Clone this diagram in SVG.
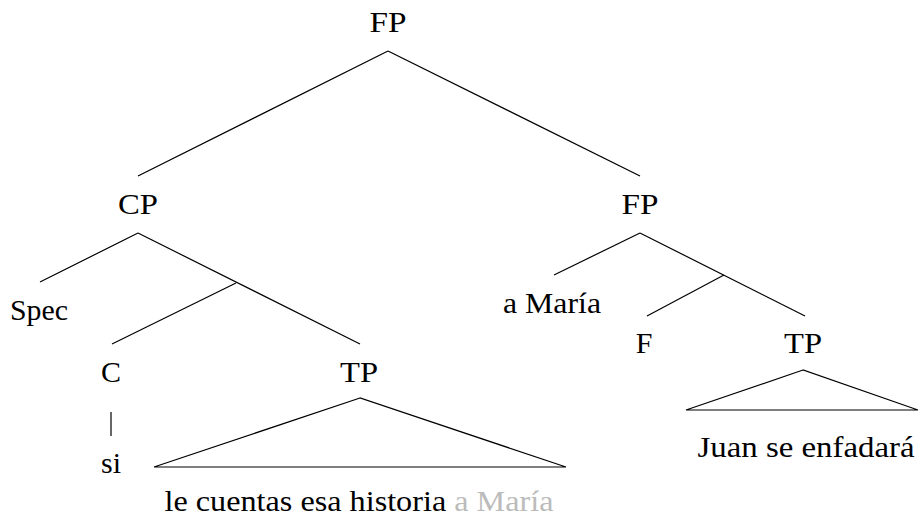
<svg xmlns="http://www.w3.org/2000/svg" width="919" height="519" viewBox="0 0 919 519">
<style>
.t{font-family:"Liberation Serif","Times New Roman",serif;font-size:30px;fill:#000;text-anchor:middle}
.g{fill:#bbbbbb}
.e{stroke:#000;stroke-width:1.2;fill:none}
</style>
<rect width="919" height="519" fill="#fff"/>
<g id="connectors">
<line class="e" x1="388" y1="51" x2="138" y2="176"/>
<line class="e" x1="388" y1="51" x2="640" y2="176"/>
<line class="e" x1="138" y1="233" x2="40" y2="282"/>
<line class="e" x1="138" y1="233" x2="360" y2="344"/>
<line class="e" x1="236" y1="283" x2="112" y2="344"/>
<line class="e" x1="111" y1="412" x2="111" y2="436"/>
<polygon class="e" points="360,398 154,467 566,467"/>
<line class="e" x1="640" y1="233" x2="554" y2="275"/>
<line class="e" x1="640" y1="233" x2="805" y2="316"/>
<line class="e" x1="724" y1="275" x2="647" y2="316"/>
<polygon class="e" points="803,370 686,410 918,410"/>
</g>
<g id="fp-root"><text class="t" x="388" y="32" textLength="37" lengthAdjust="spacingAndGlyphs">FP</text></g>
<g id="cp"><text class="t" x="138" y="214" textLength="40" lengthAdjust="spacingAndGlyphs">CP</text></g>
<g id="fp-right"><text class="t" x="640" y="214" textLength="37" lengthAdjust="spacingAndGlyphs">FP</text></g>
<g id="spec"><text class="t" x="39" y="320" textLength="58" lengthAdjust="spacingAndGlyphs">Spec</text></g>
<g id="c"><text class="t" x="111" y="382">C</text></g>
<g id="tp-left"><text class="t" x="359" y="382" textLength="38" lengthAdjust="spacingAndGlyphs">TP</text></g>
<g id="si"><text class="t" x="111" y="473">si</text></g>
<g id="tp-left-yield"><text class="t" x="359" y="511" textLength="389" lengthAdjust="spacingAndGlyphs">le cuentas esa historia <tspan class="g">a María</tspan></text></g>
<g id="a-maria"><text class="t" x="552" y="313" textLength="98" lengthAdjust="spacingAndGlyphs">a María</text></g>
<g id="f"><text class="t" x="644" y="353">F</text></g>
<g id="tp-right"><text class="t" x="803" y="353" textLength="38" lengthAdjust="spacingAndGlyphs">TP</text></g>
<g id="tp-right-yield"><text class="t" x="806" y="457" textLength="217" lengthAdjust="spacingAndGlyphs">Juan se enfadará</text></g>
</svg>
